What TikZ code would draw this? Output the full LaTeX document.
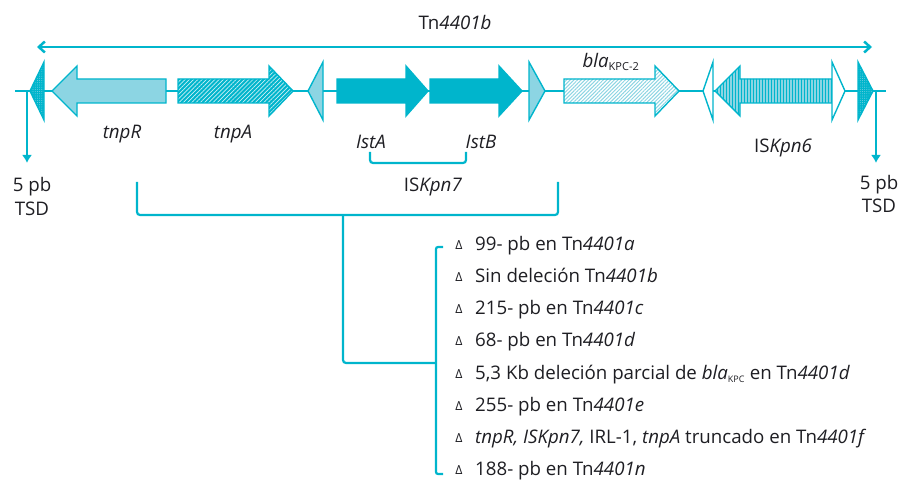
\documentclass[tikz,border=0pt]{standalone}
\usepackage{fontspec}
\setmainfont{Open Sans}
\usetikzlibrary{patterns.meta,arrows.meta}
\definecolor{teal1}{RGB}{0,181,204}
\definecolor{lteal}{RGB}{140,213,227}
\definecolor{txt}{RGB}{30,30,35}
\newcommand\geneR[4]{\path[#4] (#1,79) -- (#2,79) -- (#2,66) -- (#3,91) -- (#2,116) -- (#2,103) -- (#1,103) -- cycle;}
\newcommand\geneL[4]{\path[#4] (#3,79) -- (#2,79) -- (#2,66) -- (#1,91) -- (#2,116) -- (#2,103) -- (#3,103) -- cycle;}
\newcommand\irtri[3]{\path[#3] (#2,62) -- (#1,91) -- (#2,120) -- cycle;}
\begin{document}
\begin{tikzpicture}[x=1pt,y=-1pt,
  lbl/.style={text=txt,font=\fontsize{18.7}{21}\selectfont,inner sep=0pt},
  itemtxt/.style={lbl,anchor=mid west},
  delta/.style={text=txt,font=\fontsize{12.5}{14}\selectfont,inner sep=0pt},
  conn/.style={draw=teal1,line width=2.2pt,rounded corners=3pt},
  gborder/.style={draw=teal1,line width=1.4pt,line join=miter},
  tnpRst/.style={gborder,fill=lteal},
  tnpAst/.style={gborder,preaction={fill=teal1},pattern={Lines[angle=45,distance=3pt,line width=0.7pt]},pattern color=white!80!teal1},
  solidst/.style={gborder,fill=teal1},
  blast/.style={gborder,preaction={fill=white},pattern={Lines[angle=45,distance=2.6pt,line width=1pt]},pattern color=lteal},
  kpn6st/.style={gborder,preaction={fill=lteal},pattern={Lines[angle=90,distance=3pt,line width=1pt]},pattern color=teal1},
  irst/.style={gborder,fill=lteal},
  whst/.style={gborder,fill=white},
  darkst/.style={gborder,preaction={fill=teal1},pattern={Dots[distance=2.2pt,radius=0.45pt]},pattern color=lteal},
]
\useasboundingbox (0,0) rectangle (902,481);
% top span arrow
\coordinate (spanL) at (37,47);
\coordinate (spanR) at (872,47);
\draw[teal1,line width=2.5pt,{Straight Barb[length=6pt,width=11pt]}-{Straight Barb[length=6pt,width=11pt]}] (spanL) -- (spanR);
\node[lbl] (tnlbl) at (455,22) {Tn\textit{4401b}};
% backbone
\coordinate (bbL) at (15,91);
\coordinate (bbR) at (886,91);
\draw[teal1,line width=2.2pt] (bbL) -- (bbR);
% TSD arrows
\coordinate (tsdLa) at (27,91);
\coordinate (tsdLb) at (27,163);
\coordinate (tsdRa) at (876,91);
\coordinate (tsdRb) at (876,163);
\draw[teal1,line width=2.2pt,-{Latex[length=8pt,width=10pt]}] (tsdLa) -- (tsdLb);
\draw[teal1,line width=2.2pt,-{Latex[length=8pt,width=10pt]}] (tsdRa) -- (tsdRb);
\node[lbl] (tsdL1) at (32,187) {5 pb};
\node[lbl] (tsdL2) at (32,209) {TSD};
\node[lbl] (tsdR1) at (879,185) {5 pb};
\node[lbl] (tsdR2) at (879,206) {TSD};
% elements
\irtri{30}{44}{darkst}
\geneL{52}{77}{166}{tnpRst}
\geneR{178}{269}{293}{tnpAst}
\irtri{308}{323}{irst}
\geneR{337}{406}{428}{solidst}
\geneR{430}{499}{522}{solidst}
\irtri{545}{529}{irst}
\geneR{564}{655}{679}{blast}
\irtri{703}{713}{whst}
\geneL{715}{740}{832}{kpn6st}
\irtri{845}{832}{whst}
\irtri{873}{858}{darkst}
% gene labels
\node[lbl] (tnpR) at (122,134) {\textit{tnpR}};
\node[lbl] (tnpA) at (233,134) {\textit{tnpA}};
\node[lbl] (istA) at (371,142) {\textit{IstA}};
\node[lbl] (istB) at (481,142) {\textit{IstB}};
\node[lbl] (bla) at (611,62) {\textit{bla}\textsubscript{\fontsize{11}{12}\selectfont KPC-2}};
\node[lbl] (kpn6) at (783,148) {IS\textit{Kpn6}};
\node[lbl] (kpn7) at (433,187) {IS\textit{Kpn7}};
% ISKpn7 small bracket
\coordinate (sbA) at (370,152);
\coordinate (sbB) at (466,152);
\draw[conn] (sbA) -- (370,163) -- (466,163) -- (sbB);
% big bracket
\coordinate (bbrA) at (137,182);
\coordinate (bbrB) at (558,182);
\draw[conn] (bbrA) -- (137,215) -- (558,215) -- (bbrB);
\coordinate (stemTop) at (343,215);
\coordinate (stemEnd) at (436,363);
\draw[conn] (stemTop) |- (stemEnd);
% list bracket
\coordinate (lbTop) at (443,247);
\coordinate (lbBot) at (443,474);
\draw[conn,rounded corners=2pt] (lbTop) -- (436,247) -- (436,474) -- (lbBot);
% list
\foreach \yy/\tx [count=\i] in {
  248/{99- pb en Tn\textit{4401a}},
  280/{Sin deleción Tn\textit{4401b}},
  312/{215- pb en Tn\textit{4401c}},
  344/{68- pb en Tn\textit{4401d}},
  377/{5,3 Kb deleción parcial de \textit{bla}\textsubscript{\fontsize{9}{10}\selectfont KPC} en Tn\textit{4401d}},
  409/{255- pb en Tn\textit{4401e}},
  441/{\textit{tnpR, ISKpn7,} IRL-1, \textit{tnpA} truncado en Tn\textit{4401f}},
  473/{188- pb en Tn\textit{4401n}}}{
  \node[delta] (d\i) at (459,\yy-3) {Δ};
  \node[itemtxt] (it\i) at (475,\yy) {\tx};
}
\end{tikzpicture}
\end{document}
